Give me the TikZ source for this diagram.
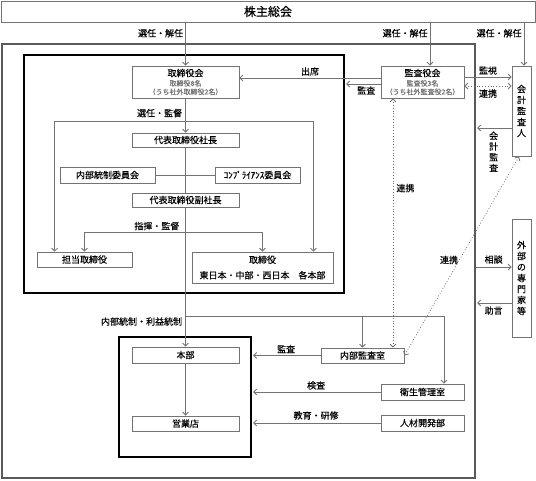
\documentclass[tikz,border=0pt]{standalone}
\usepackage{fontspec}
\setmainfont{Noto Sans CJK JP}[FakeBold=0.35]
\usetikzlibrary{arrows.meta}
\usetikzlibrary{shadows}
\newcommand{\subtxt}[1]{{\color{black!55}\fontsize{7}{8}\selectfont #1}}

\begin{document}
\begin{tikzpicture}[x=1pt,y=-1pt,
    font=\fontsize{9}{10.5}\selectfont,
    conn/.style={draw=black!55, line width=0.8pt},
    arr/.style={conn, -{Straight Barb[length=3pt,width=6pt]}},
    tofr/.style={arr, shorten >=1.5pt},
    link/.style={conn, dotted, {Straight Barb[length=3pt,width=6pt]}-{Straight Barb[length=3pt,width=6pt]}},
    orgbox/.style={draw=black!55, line width=0.8pt, fill=white, inner sep=1pt, align=center,
      drop shadow={shadow xshift=0.9pt, shadow yshift=-0.9pt, fill=black!45, opacity=1}},
    vbox/.style={orgbox, font=\fontsize{9}{11}\selectfont},
    areabox/.style={draw=black, line width=1.3pt, inner sep=0pt},
  ]
  \useasboundingbox (0,0) rectangle (536,480);

  % frames
  \node[areabox, draw=black!65, minimum width=473, minimum height=434] (comp) at (238.5,261) {};
  \node[areabox, minimum width=320, minimum height=238] (board) at (184,174) {};
  \node[areabox, minimum width=132, minimum height=120] (branch) at (185,397) {};

  \node[orgbox, minimum width=534, minimum height=21, font=\fontsize{12}{13}\selectfont] (kabu) at (268,11.5) {株主総会};

  \node[orgbox, minimum width=107, minimum height=32] (tori) at (185.5,82)
    {取締役会\\[-1pt]\subtxt{取締役8名}\\[-2pt]\subtxt{（うち社外取締役2名）}};
  \node[orgbox, minimum width=83, minimum height=32] (kansa) at (422.5,82)
    {監査役会\\[-1pt]\subtxt{監査役3名}\\[-2pt]\subtxt{（うち社外監査役2名）}};
  \node[vbox, minimum width=19, minimum height=90] (kaikei) at (521.5,111) {会\\計\\監\\査\\人};
  \node[vbox, minimum width=19, minimum height=118] (gaibu) at (521.5,278) {外\\部\\の\\専\\門\\家\\等};

  \node[orgbox, minimum width=107, minimum height=14] (shacho) at (185.5,140) {代表取締役社長};
  \node[orgbox, minimum width=95, minimum height=16] (naibu) at (107.5,175) {内部統制委員会};
  \node[orgbox, minimum width=85, minimum height=16] (compl) at (257.5,175) {ｺﾝﾌﾟﾗｲｱﾝｽ委員会};
  \node[orgbox, minimum width=107, minimum height=14] (fuku) at (185.5,200) {代表取締役副社長};
  \node[orgbox, minimum width=95, minimum height=15] (tanto) at (84.5,259.5) {担当取締役};
  \node[orgbox, minimum width=141, minimum height=31] (yaku) at (262.5,267.5)
    {取締役\\[5pt]東日本・中部・西日本\quad 各本部};

  \node[orgbox, minimum width=107, minimum height=16] (honbu) at (185.5,355) {本部};
  \node[orgbox, minimum width=107, minimum height=15] (eigyo) at (185.5,423.5) {営業店};
  \node[orgbox, minimum width=83, minimum height=15] (naikan) at (362.5,355.5) {内部監査室};
  \node[orgbox, minimum width=83, minimum height=16] (eisei) at (422.5,392) {衛生管理室};
  \node[orgbox, minimum width=83, minimum height=16] (jinzai) at (422.5,423) {人材開発部};

  \coordinate (kansa-in) at ([xshift=7.5pt]kansa.north);
  \coordinate (kaikei-in) at ([xshift=2.5pt]kaikei.north);
  \coordinate (kansa-lo) at ([yshift=-2pt]kansa.west);
  \coordinate (kansa-hi) at ([yshift=5pt]kansa.east);
  \coordinate (kansa-lo2) at ([yshift=-4pt]kansa.east);
  \coordinate (kansa-dn) at ([xshift=-29.5pt]kansa.south);
  \coordinate (kaikei-out) at ([yshift=-17pt]kaikei.west);
  \coordinate (kaikei-dn) at ([xshift=-2.5pt]kaikei.south);
  \coordinate (gaibu-in) at ([yshift=11pt]gaibu.west);
  \coordinate (gaibu-out) at ([yshift=-25pt]gaibu.west);
  \coordinate (sel) at ([yshift=-23pt]tori.south);
  \coordinate (cmd) at ([yshift=-25pt]fuku.south);
  \coordinate (ctl) at ([yshift=30pt]honbu.north);

  % shareholders
  \draw[arr] (kabu.south -| tori.north) -- (tori.north) node[pos=0.25, left, inner sep=2pt] (el1) {選任・解任};
  \draw[arr] (kabu.south -| kansa-in) -- (kansa-in) node[pos=0.25, left, inner sep=2pt] (el2) {選任・解任};
  \draw[arr] (kabu.south -| kaikei-in) -- (kaikei-in) node[pos=0.25, left, inner sep=2pt] (el3) {選任・解任};

  % auditors
  \draw[arr] ([yshift=4pt]kansa.west) -- ([yshift=4pt]tori.east) node[midway, above, inner sep=2pt] (att) {出席};
  \draw[tofr] (kansa-lo) -- (board.east |- kansa-lo) node[pos=0.4, below, inner sep=2pt] (aud1) {監査};
  \draw[arr] (kansa-hi) -- (kansa-hi -| kaikei.west) node[midway, above, inner sep=2pt] (watch) {監視};
  \draw[link] (kansa-lo2) -- (kansa-lo2 -| kaikei.west) node[midway, below, inner sep=3pt] (co1) {連携};
  \draw[tofr] (kaikei-out) -- (kaikei-out -| comp.east)
    node[midway, below, align=center, font=\fontsize{9}{10.7}\selectfont] (acc) {会\\計\\監\\査};
  \draw[arr] (gaibu-in -| comp.east) -- (gaibu-in) node[midway, above, inner sep=3pt] (cons) {相談};
  \draw[tofr] (gaibu-out) -- (gaibu-out -| comp.east) node[midway, below, inner sep=3pt] (adv) {助言};
  \draw[link] (kansa-dn) -- (kansa-dn |- naikan.north) node[pos=0.36, right, inner sep=3pt] (co2) {連携};
  \draw[link] (kaikei-dn) -- (naikan.east) node[pos=0.52, left, inner sep=1pt] (co3) {連携};

  % board
  \draw[arr] (tori.south) -- (shacho.north) node[pos=0.43, left, inner sep=3pt] (sup) {選任・監督};
  \draw[arr] (sel) -| ([xshift=18pt]tanto.north west);
  \draw[arr] (sel) -| ([xshift=-20pt]yaku.north east);
  \draw[conn] (shacho.south) -- (fuku.north);
  \draw[conn] (naibu.east) -- (compl.west);
  \draw[arr] (cmd) -| (tanto.north);
  \draw[arr] (cmd) -| (yaku.north);
  \node[anchor=south east, inner sep=2pt] (cmdlbl) at ([xshift=-4pt]cmd) {指揮・監督};
  \draw[arr] (fuku.south) -- (honbu.north) node[pos=0.82, left, inner sep=3pt] (ctllbl) {内部統制・利益統制};

  % branches
  \draw[arr] (ctl) -| (naikan.north);
  \draw[arr] (ctl) -| ([xshift=21.5pt]eisei.north);
  \draw[arr] (honbu.south) -- (eigyo.north);
  \draw[tofr] (naikan.west) -- (naikan.west -| branch.east) node[midway, above, inner sep=2pt] (aud2) {監査};
  \draw[tofr] (eisei.west) -- (eisei.west -| branch.east) node[midway, above, inner sep=2pt] (insp) {検査};
  \draw[tofr] (jinzai.west) -- (jinzai.west -| branch.east) node[midway, above, inner sep=3pt] (edu) {教育・研修};
\end{tikzpicture}
\end{document}
